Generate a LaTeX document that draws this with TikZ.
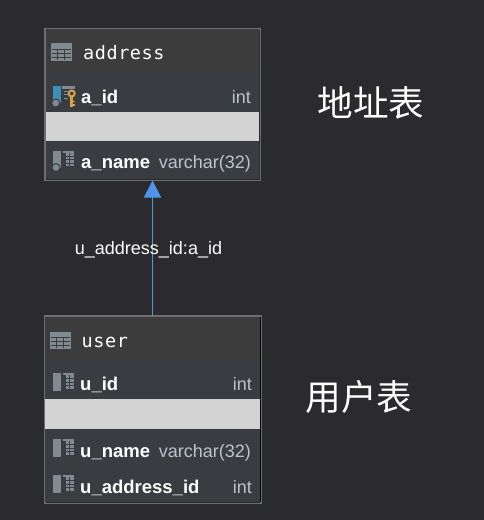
\documentclass[tikz,border=0pt]{standalone}
\usepackage{fontspec}
\setmainfont{Liberation Sans}
\newfontfamily\monof[LetterSpace=3]{DejaVu Sans Mono}
\newfontfamily\cjkf{Noto Sans CJK SC}
\usetikzlibrary{arrows.meta}
\definecolor{bgc}{HTML}{2B2A2D}
\definecolor{headc}{HTML}{3C3C3C}
\definecolor{rowc}{HTML}{393D41}
\definecolor{sepc}{HTML}{D3D3D3}
\definecolor{edgec}{HTML}{6E6E6E}
\definecolor{iconc}{HTML}{7F8B91}
\definecolor{typec}{HTML}{BBC4C9}
\definecolor{linkc}{HTML}{4F94EA}
\definecolor{keyc}{HTML}{D9A343}
\definecolor{pkc}{HTML}{3E8FB8}
\tikzset{
  x=1pt,y=-1pt,
  tablebox/.style={draw=edgec,line width=1.3pt,inner sep=0pt,anchor=north west},
  headtxt/.style={anchor=base west,inner sep=0pt,text=white,font=\monof\fontsize{18.5}{20}\selectfont},
  coltxt/.style={anchor=base west,inner sep=0pt,text=white,font=\bfseries\fontsize{18.5}{20}\selectfont},
  typetxt/.style={anchor=base east,inner sep=0pt,text=typec,font=\fontsize{18}{20}\selectfont},
  cjktxt/.style={inner sep=0pt,text=white,font=\cjkf\fontsize{35.6}{38}\selectfont},
  linktxt/.style={inner sep=0pt,text=white,font=\fontsize{18}{20}\selectfont},
  pics/tableicon/.style={code={
    \fill[iconc] (0,0) rectangle (21,17.5);
    \draw[headc,line width=1pt] (0.8,6)--(20.2,6) (0.8,10)--(20.2,10) (0.8,14)--(20.2,14)
      (7,6)--(7,16.8) (14,6)--(14,16.8);
  }},
  pics/colicon/.style={code={
    \fill[iconc] (0,0) rectangle (8,17.5);
    \fill[iconc] (10,0) rectangle (21.5,15.5);
    \fill[rowc] (10,2.2) rectangle (13,15.5);
    \draw[rowc,line width=0.9pt] (13,5.5)--(21.5,5.5) (13,9)--(21.5,9) (13,12.5)--(21.5,12.5) (17,2.2)--(17,15.5);
  }},
  pics/pkicon/.style={code={
    \fill[pkc] (0,0) rectangle (8,17);
    \fill[iconc] (9.5,0) rectangle (22,3);
    \draw[iconc,line width=1pt] (11,5.5)--(15,5.5) (11,9)--(15,9) (11,12.5)--(15,12.5);
    \draw[rowc,line width=1pt,fill=iconc] (3,17.5) circle (4);
    \draw[keyc,line width=2pt] (19,8) circle (3);
    \draw[keyc,line width=2.6pt] (19,11)--(19,21);
    \draw[keyc,line width=1.6pt] (19,16)--(22,16) (19,19.5)--(22,19.5);
  }},
  pics/dot/.style={code={\draw[rowc,line width=1pt,fill=iconc] (0,0) circle (4);}},
}
\begin{document}
\begin{tikzpicture}
\useasboundingbox (0,0) rectangle (484,520);
\fill[bgc] (0,0) rectangle (484,520);

% address table
\node[tablebox,minimum width=214.5pt,minimum height=151pt] (address) at (45,28.5) {};
\fill[headc] (45.7,28.7) rectangle (259.3,72);
\fill[rowc] (45.7,72) rectangle (259.3,179.3);
\fill[sepc] (45.7,111.6) rectangle (259.3,140.8);
\draw[edgec,line width=1.3pt] (address.north west) rectangle (address.south east);
\pic at (50.7,43.3) {tableicon};
\node[headtxt] (addressname) at (83,59.8) {address};
\pic at (52.7,85.5) {pkicon};
\node[coltxt] (aid) at (81,103.4) {a\_id};
\node[typetxt] (aidtype) at (251,103.4) {int};
\pic at (52.7,150.7) {colicon};
\pic at (56,167.5) {dot};
\node[coltxt] (aname) at (81,168.8) {a\_name};
\node[typetxt] (anametype) at (251,168.8) {varchar(32)};

% user table
\node[tablebox,minimum width=215.5pt,minimum height=186.5pt] (user) at (44.5,316) {};
\fill[headc] (45.2,316.7) rectangle (260,360);
\fill[rowc] (45.2,360) rectangle (260,502.3);
\fill[sepc] (45.2,399.4) rectangle (260,428.8);
\draw[edgec,line width=1.3pt] (user.north west) rectangle (user.south east);
\draw[black,line width=1pt] (260.2,317) -- (260.2,502);
\pic at (49.7,331.5) {tableicon};
\node[headtxt] (username) at (81.5,347.2) {user};
\pic at (52.5,373) {colicon};
\node[coltxt] (uid) at (80,390.8) {u\_id};
\node[typetxt] (uidtype) at (252,390.8) {int};
\pic at (52.5,439) {colicon};
\node[coltxt] (uname) at (80,457.4) {u\_name};
\node[typetxt] (unametype) at (251,457.4) {varchar(32)};
\pic at (52.5,475) {colicon};
\node[coltxt] (uaddr) at (80,493.4) {u\_address\_id};
\node[typetxt] (uaddrtype) at (252,493.4) {int};

% relation
\coordinate (ufoot) at (152.5,316);
\coordinate (ahead) at (152.5,180.5);
\draw[linkc,line width=1.8pt,-{Triangle[length=17pt,width=17pt]}] (ufoot) -- (ahead);
\node[linktxt] (linklabel) at (148.5,250) {u\_address\_id:a\_id};

% captions
\node[cjktxt] (cap1) at (371,103) {地址表};
\node[cjktxt] (cap2) at (359,397) {用户表};
\end{tikzpicture}
\end{document}
